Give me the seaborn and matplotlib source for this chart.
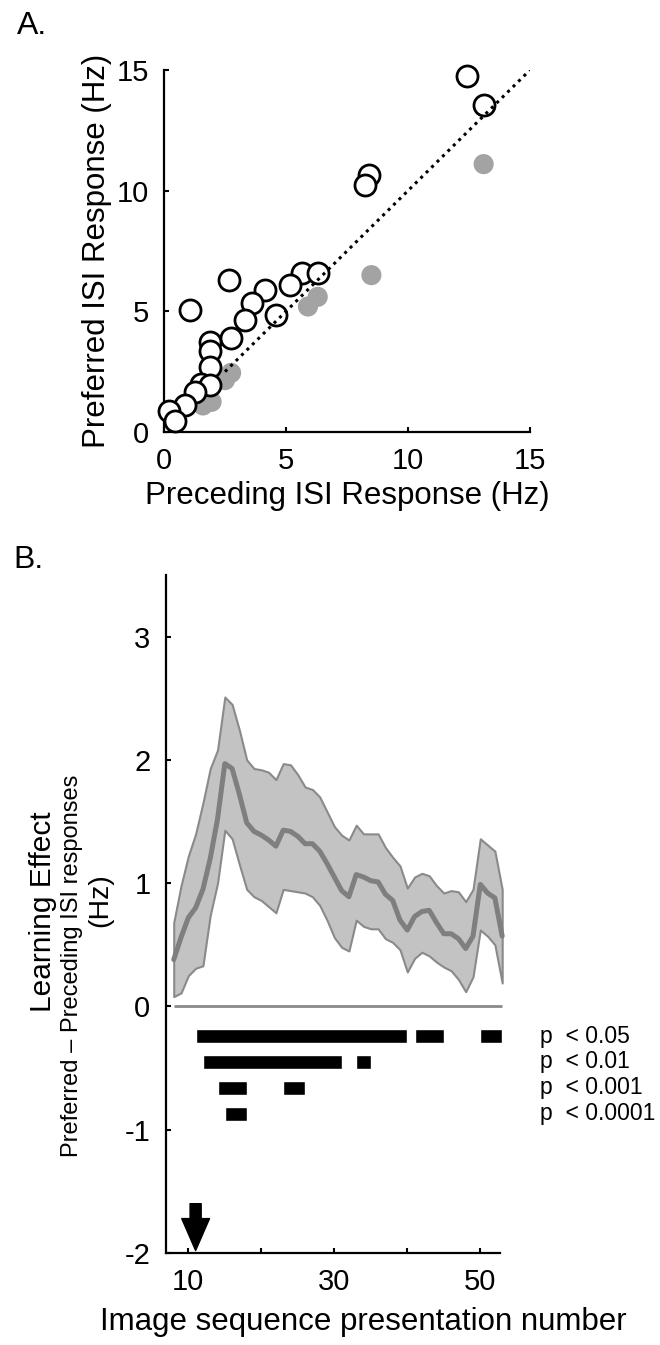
import matplotlib
matplotlib.use("Agg")
import matplotlib.pyplot as plt
import numpy as np
import pandas as pd
import seaborn as sns

# Panel A: preferred vs preceding ISI response (Hz)
open_x = [12.4, 13.1, 8.4, 8.25, 2.65, 1.05, 5.65, 6.3, 5.15, 4.15, 3.6, 4.6,
          3.3, 2.75, 1.9, 1.9, 1.9, 1.5, 1.9, 1.25, 0.85, 0.2, 0.45]
open_y = [14.75, 13.55, 10.65, 10.25, 6.3, 5.05, 6.6, 6.6, 6.1, 5.9, 5.35, 4.85,
          4.65, 3.9, 3.75, 3.35, 2.7, 2.0, 1.95, 1.65, 1.1, 0.85, 0.45]
gray_x = [13.1, 8.5, 6.3, 5.9, 2.75, 2.5, 1.95, 1.6]
gray_y = [11.1, 6.5, 5.6, 5.2, 2.45, 2.15, 1.25, 1.1]
unity = [2.5, 15]

# Panel B: learning effect over presentations
pres = np.arange(8, 54)
mean_eff = [0.38, 0.56, 0.72, 0.80, 0.95, 1.20, 1.52, 1.97, 1.93, 1.72, 1.49, 1.42,
            1.39, 1.35, 1.30, 1.43, 1.42, 1.38, 1.32, 1.32, 1.26, 1.16, 1.05, 0.94,
            0.89, 1.07, 1.05, 1.02, 1.01, 0.91, 0.86, 0.70, 0.62, 0.73, 0.77, 0.78,
            0.68, 0.59, 0.59, 0.55, 0.47, 0.57, 0.99, 0.92, 0.88, 0.57]
upper_eff = [0.68, 0.98, 1.22, 1.40, 1.65, 1.93, 2.08, 2.51, 2.45, 2.24, 2.00, 1.93,
             1.92, 1.90, 1.84, 1.97, 1.96, 1.88, 1.78, 1.76, 1.70, 1.58, 1.46, 1.39,
             1.35, 1.47, 1.40, 1.40, 1.40, 1.29, 1.21, 1.14, 0.96, 1.05, 1.08, 1.06,
             0.98, 0.92, 0.94, 0.93, 0.85, 0.95, 1.36, 1.31, 1.26, 0.95]
lower_eff = [0.08, 0.11, 0.25, 0.31, 0.33, 0.74, 1.00, 1.43, 1.36, 1.15, 0.95, 0.89,
             0.86, 0.81, 0.76, 0.95, 0.94, 0.93, 0.92, 0.89, 0.82, 0.70, 0.56, 0.48,
             0.45, 0.70, 0.65, 0.63, 0.63, 0.55, 0.52, 0.46, 0.28, 0.39, 0.44, 0.41,
             0.36, 0.32, 0.29, 0.22, 0.12, 0.24, 0.62, 0.57, 0.50, 0.19]

sig_labels = ["p  < 0.05", "p  < 0.01", "p  < 0.001", "p  < 0.0001"]
sig_rows = [-0.24, -0.45, -0.66, -0.87]
sig_segments = [
    [(11, 40), (41, 45), (50, 53)],
    [(12, 31), (33, 35)],
    [(14, 18), (23, 26)],
    [(15, 18)],
]
arrow_x = 11

sns.set_style("ticks")
plt.rcParams["font.family"] = ["Liberation Sans", "DejaVu Sans"]
plt.rcParams["xtick.direction"] = "in"
plt.rcParams["ytick.direction"] = "in"
plt.rcParams["axes.unicode_minus"] = False
plt.rcParams["text.color"] = "black"
plt.rcParams["axes.labelcolor"] = "black"

W, H = 660, 1345
fig = plt.figure(figsize=(W / 100, H / 100), dpi=100)


def box(l, t, r, b):
    return [l / W, 1 - b / H, (r - l) / W, (b - t) / H]


def style_axes(ax, pad):
    for side in ["top", "right"]:
        ax.spines[side].set_visible(False)
    for side in ["left", "bottom"]:
        ax.spines[side].set_linewidth(1.6)
        ax.spines[side].set_color("black")
    ax.tick_params(length=3.5, width=1.5, labelsize=21, pad=pad, colors="black")


# ---- Panel A ----
ax_a = fig.add_axes(box(164, 70, 530, 432))
df_gray = pd.DataFrame({"x": gray_x, "y": gray_y})
df_open = pd.DataFrame({"x": open_x, "y": open_y})
sns.scatterplot(data=df_gray, x="x", y="y", ax=ax_a, s=210, color="#a3a3a3",
                edgecolor="none", zorder=2, clip_on=False)
sns.scatterplot(data=df_open, x="x", y="y", ax=ax_a, s=230, facecolor="white",
                edgecolor="black", linewidth=2.0, zorder=3, clip_on=False)
ax_a.plot(unity, unity, color="black", lw=2.2, ls=(0, (1, 1.5)), zorder=4)
ax_a.set_xlim(0, 15)
ax_a.set_ylim(0, 15)
ax_a.set_xticks([0, 5, 10, 15])
ax_a.set_yticks([0, 5, 10, 15])
style_axes(ax_a, 11)
ax_a.set_xlabel("Preceding ISI Response (Hz)", fontsize=22.5, labelpad=4)
ax_a.set_ylabel("Preferred ISI Response (Hz)", fontsize=22.5, labelpad=3)
fig.text(17 / W, 1 - 26 / H, "A.", fontsize=23, va="center", ha="left")

# ---- Panel B ----
ax_b = fig.add_axes(box(165.7, 575, 500, 1253))
ax_b.fill_between(pres, lower_eff, upper_eff, facecolor="#c3c3c3",
                  edgecolor="#8a8a8a", lw=1.5, zorder=2, clip_on=False)
sns.lineplot(x=pres, y=mean_eff, ax=ax_b, color="#7f7f7f", lw=3.6, zorder=3,
             clip_on=False)
ax_b.hlines(0, pres.min(), pres.max(), color="#8a8a8a", lw=2, zorder=1,
            clip_on=False)

for row_y, segs in zip(sig_rows, sig_segments):
    starts = [s for s, e in segs]
    widths = [e - s for s, e in segs]
    ax_b.barh([row_y] * len(segs), widths, left=starts, height=0.115,
              color="black", zorder=3, clip_on=False)
for row_y, lab in zip(sig_rows, sig_labels):
    ax_b.text(58.2, row_y, lab, fontsize=16.5, va="center", ha="left",
              clip_on=False)

ax_b.annotate("", xy=(arrow_x, -1.98), xytext=(arrow_x, -1.6),
              arrowprops=dict(arrowstyle="simple,head_length=1.15,head_width=1.0,"
                              "tail_width=0.4",
                              color="black", mutation_scale=20,
                              shrinkA=0, shrinkB=0))

ax_b.set_xlim(6.9, 52.7)
ax_b.set_ylim(-2, 3.5)
ax_b.set_xticks([10, 20, 30, 40, 50])
ax_b.set_xticklabels(["10", "", "30", "", "50"])
ax_b.set_yticks([-2, -1, 0, 1, 2, 3])
style_axes(ax_b, 11)
ax_b.set_xlabel("")
ax_b.set_ylabel("")
fig.text(363 / W, 1 - 1322 / H, "Image sequence presentation number",
         fontsize=22.5, ha="center", va="center")
# three-line y label of panel B
fig.text(43 / W, 1 - 912 / H, "Learning Effect", fontsize=21.5,
         rotation=90, ha="center", va="center")
fig.text(72 / W, 1 - 966 / H, "Preferred \u2013 Preceding ISI responses",
         fontsize=17, rotation=90, ha="center", va="center")
fig.text(100 / W, 1 - 900 / H, "(Hz)", fontsize=20.5,
         rotation=90, ha="center", va="center")
fig.text(13 / W, 1 - 560 / H, "B.", fontsize=23, va="center", ha="left")

fig.savefig("out.png", dpi=100)
